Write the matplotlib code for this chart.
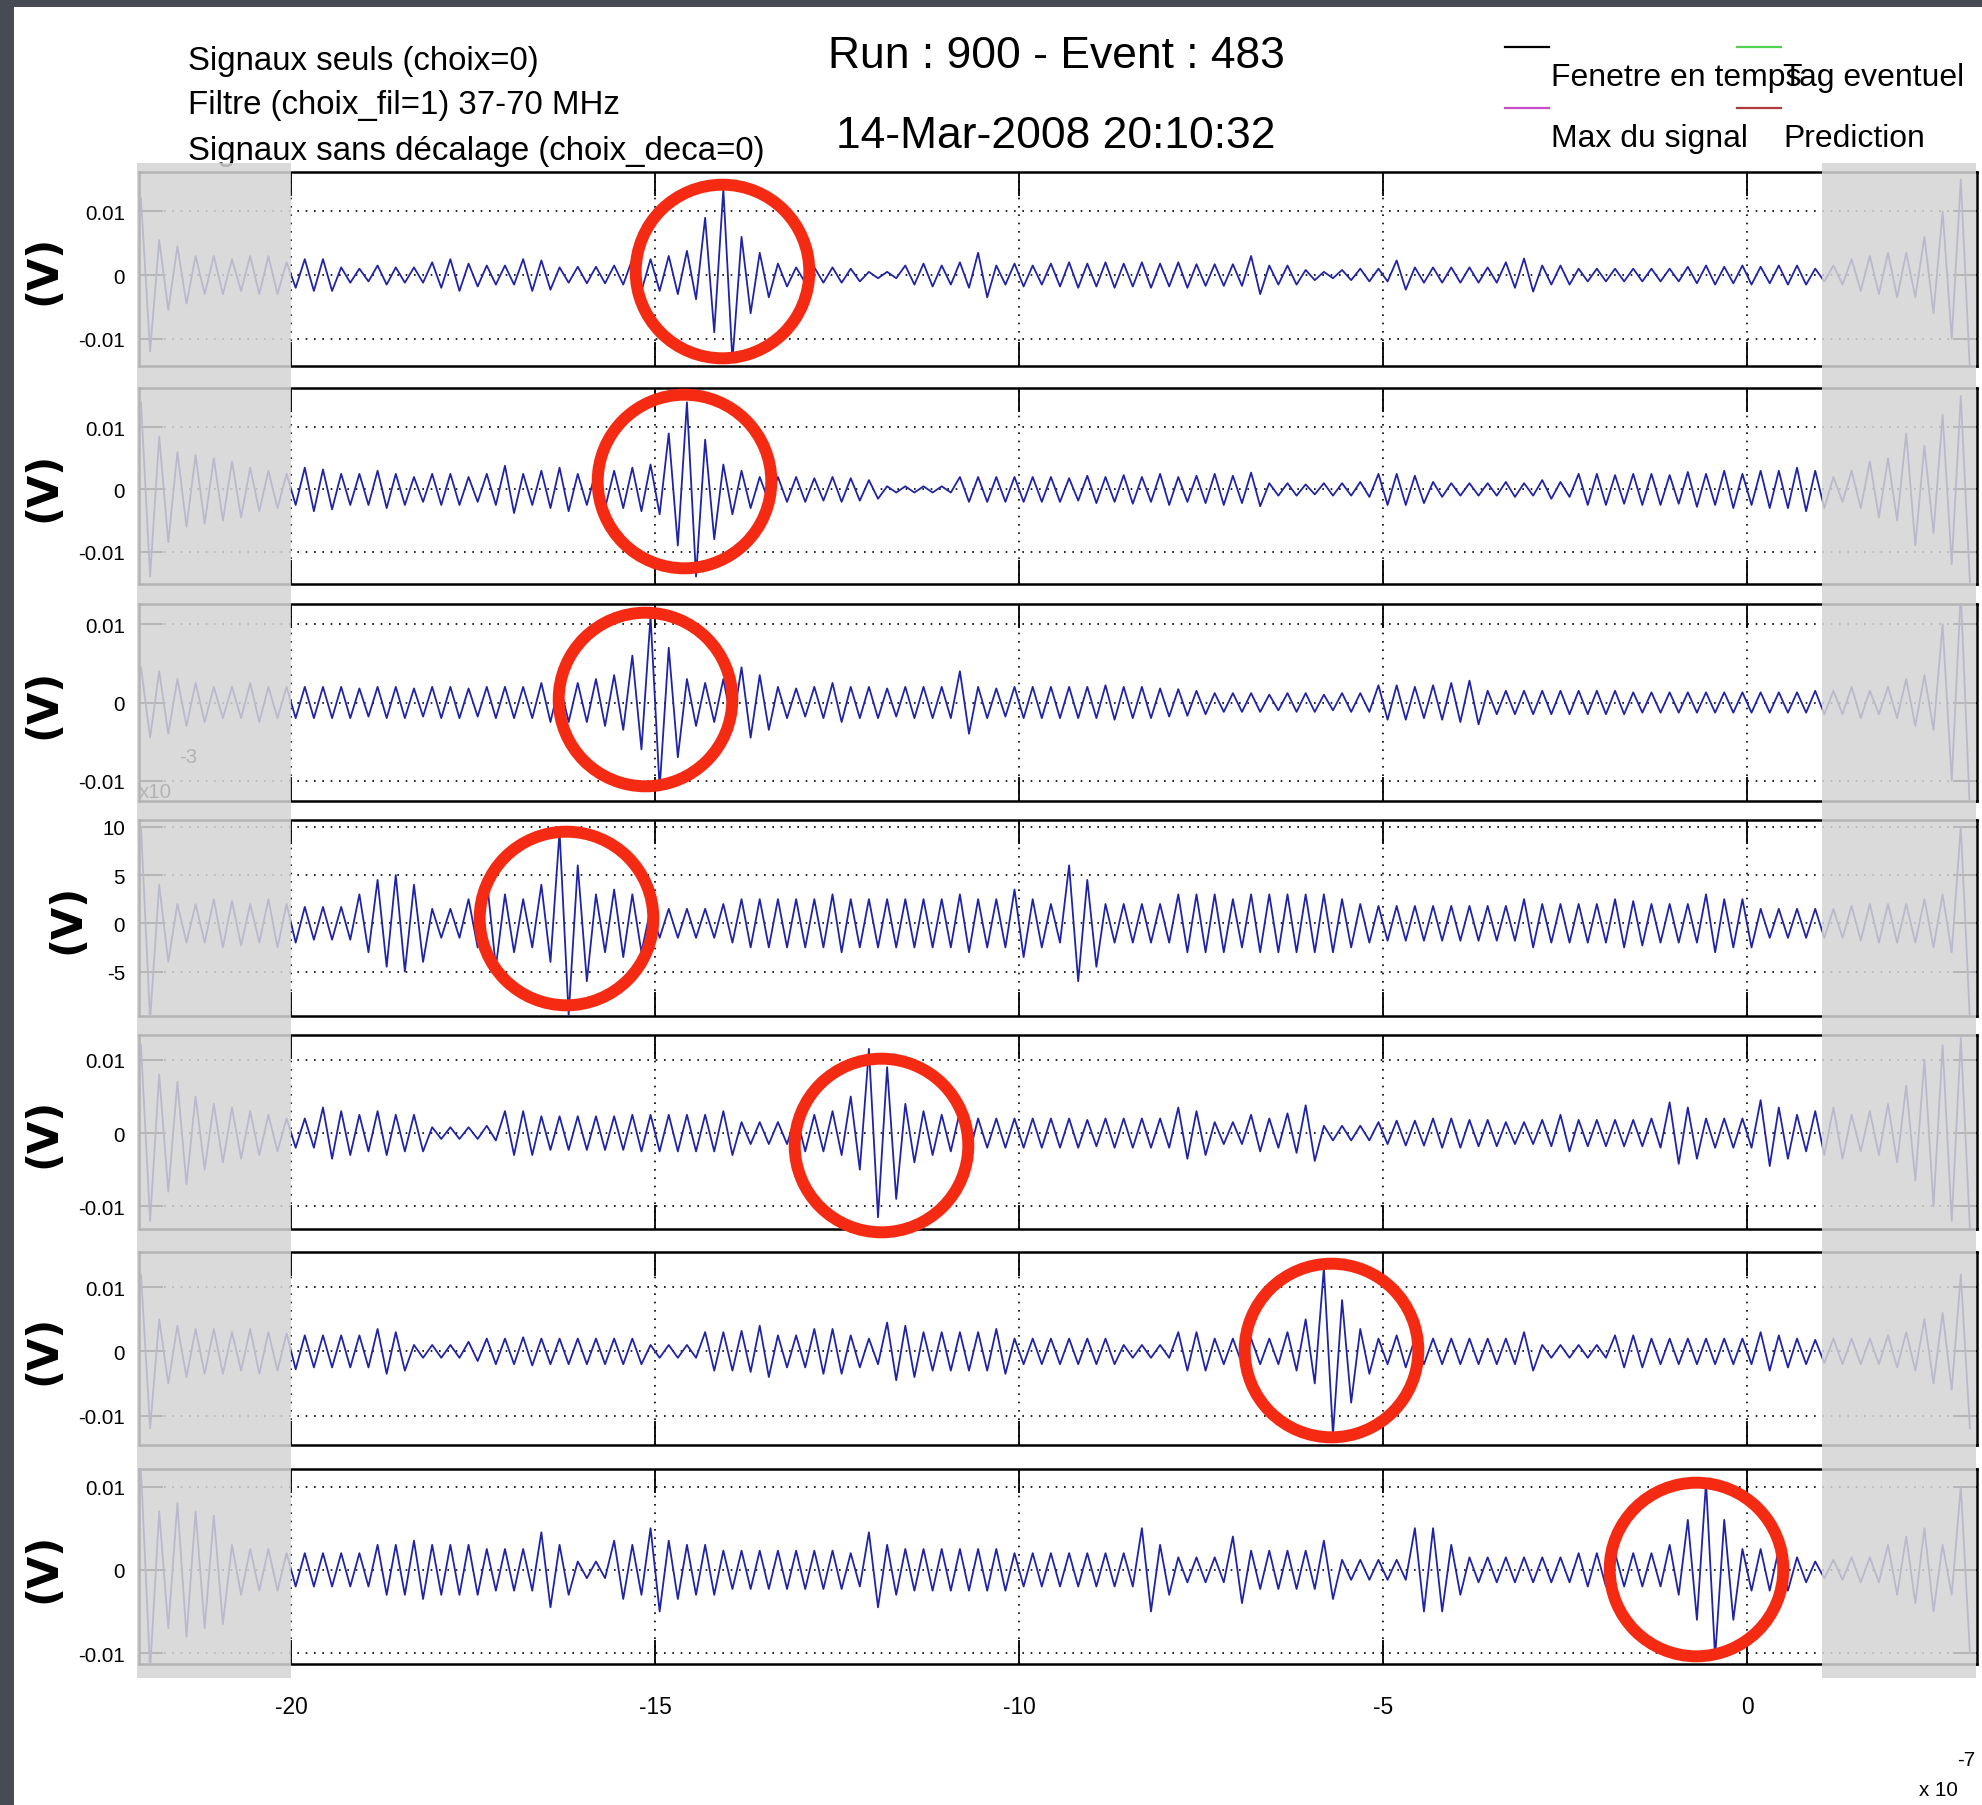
import matplotlib
matplotlib.use("Agg")

import matplotlib.pyplot as plt
import numpy as np
from matplotlib import font_manager
from matplotlib.lines import Line2D
from matplotlib.patches import Rectangle
from matplotlib.transforms import blended_transform_factory

# time is in units of 1e-7 s, one oscillation cycle every 0.25 (40 MHz)
CYCLE_START = -22.0
CYCLE_STEP = 0.25

# peak amplitude (mV) of every cycle, one list per antenna
amp_ch1 = [
    12, 5.5, 4.5, 3, 3, 2.5, 3, 3, 2, 2.5,
    2.5, 1.2, 1, 1.5, 1.2, 1.2, 2, 2.5, 1.8, 1.5,
    1.5, 2.5, 2.3, 1.2, 1.3, 1.3, 1.5, 2.5, 2.5, 3,
    3.8, 9, 13.5, 6, 3.5, 1.8, 1.2, 1.2, 1.2, 1,
    0.5, 0.5, 1.5, 1.8, 1.5, 2, 3.5, 1.5, 1.8, 1.5,
    1.8, 2, 1.8, 2, 1.8, 2, 1.8, 2, 1.7, 1.7,
    1.7, 3, 1.5, 1.5, 0.8, 0.5, 0.8, 1, 1, 2.3,
    1.2, 1.2, 1.2, 1.2, 1.2, 2, 2.6, 1.5, 1.5, 1,
    1, 1, 1, 1, 1, 1.3, 1.5, 1.3, 1.5, 1.3,
    1.5, 1.5, 1, 1.5, 2.5, 3, 3.5, 3.5, 6, 10,
    15,
]
amp_ch2 = [
    14, 8.5, 6, 5.5, 5, 4.5, 3.5, 3, 2.5, 3.5,
    3.2, 2.5, 2.5, 3, 2.5, 2, 2.5, 2.5, 2, 2.5,
    3.8, 2.5, 3, 3.5, 2.5, 3, 3, 3.5, 4, 9,
    14, 8, 4, 3, 2, 2, 2, 1.8, 2, 1.8,
    1.5, 0.5, 0.5, 0.5, 0.5, 2, 2, 2, 2, 2,
    2, 1.8, 2.2, 2, 2.3, 2, 2.5, 2, 2.2, 2.5,
    2.2, 2.7, 1, 1, 0.8, 1, 1, 1.2, 2.5, 2.5,
    2.2, 1.2, 1, 1, 1, 1.2, 1, 1.5, 1.2, 2.5,
    2.5, 2.3, 2.5, 2.5, 2.3, 2.8, 2.5, 3, 2.5, 3,
    3, 3.5, 3, 2, 3, 4.5, 5, 9, 7, 12,
    15,
]
amp_ch3 = [
    4.5, 4, 3, 2.5, 2, 2, 2.5, 2, 2, 2,
    2, 2, 1.8, 2, 2, 1.8, 2, 2, 1.8, 2,
    2, 2, 2.5, 2.5, 2.5, 3, 3.5, 6, 11, 7,
    3, 2.5, 3, 4.5, 3.5, 2, 1.8, 2, 2.5, 2,
    2, 1.8, 2, 2, 2, 4, 2, 1.8, 2, 2,
    2, 2, 2, 2.2, 2, 2, 1.8, 1.7, 1.5, 1.2,
    1.2, 1.2, 1, 1.2, 1.2, 1, 1.2, 1.2, 2.2, 2.2,
    2, 2.2, 2.5, 2.8, 1.5, 1.5, 1.5, 1.5, 1.5, 1.5,
    1.5, 1.5, 1.3, 1.3, 1.3, 1.3, 1.3, 1.3, 1.3, 1.3,
    1.3, 1.3, 1.5, 1.5, 2, 1.5, 2, 3, 3.5, 10,
    14,
]
amp_ch4 = [
    10, 4, 2, 2, 2.5, 2.3, 2, 2.5, 2, 1.7,
    1.7, 1.7, 3, 4.5, 5, 4, 1.5, 1.5, 2.5, 4.5,
    3, 2.5, 4, 9.5, 6, 3, 3.5, 3, 1.5, 1.5,
    1.5, 1.5, 2, 2.5, 2.5, 2.5, 2.5, 2.5, 3, 2.5,
    2.5, 2.5, 2.5, 2.5, 2.5, 3, 2.5, 2.5, 3.5, 2.5,
    2, 6, 4.5, 2, 2, 2, 2, 3, 3, 3,
    2.5, 3, 3, 3, 3, 3, 2.5, 2, 1.8, 1.8,
    1.8, 1.8, 1.8, 1.8, 1.8, 1.8, 2.5, 2, 2, 2,
    2, 2.5, 2.3, 2, 2, 2, 3, 2.5, 2.5, 1.5,
    1.5, 1.5, 1.5, 1.5, 1.8, 2, 2, 2, 2.5, 3,
    10,
]
amp_ch5 = [
    12, 8, 7, 5, 4, 3.5, 3, 2.5, 2, 2,
    3.5, 3, 2.5, 3, 2.5, 2.5, 0.8, 0.8, 0.8, 1,
    3, 3, 2.3, 2.3, 2.3, 2.3, 2.3, 2.5, 2.5, 2.5,
    2.5, 2.5, 3, 1.5, 1.5, 1.5, 2.5, 2.5, 3, 5,
    11.5, 9, 4, 3, 2.5, 3, 2, 2, 2, 2,
    2, 2, 1.8, 2, 2, 2, 2, 3.5, 3, 1.5,
    1.5, 2.5, 2, 2.7, 3.8, 1, 1, 1, 1.5, 1.7,
    1.7, 2, 2, 1.8, 1.8, 1.5, 1.5, 1.8, 2.5, 1.8,
    1.8, 1.8, 1.8, 2, 4.2, 3.5, 2, 2, 2, 4.5,
    3.5, 2.5, 3, 3.5, 2.5, 3, 4, 6.5, 10, 12,
    13,
]
amp_ch6 = [
    12, 5, 4, 3.5, 3.5, 3, 3.5, 3, 2.8, 2.5,
    2.5, 2.5, 2.5, 3.5, 3, 1, 1, 1, 1.5, 2,
    2, 2.2, 2, 2, 2, 2, 2, 2, 1, 1,
    1, 3, 3, 3.2, 4, 2.5, 2.5, 3.5, 3.5, 2.5,
    2, 4.5, 4, 3, 3, 3, 3, 3.5, 2, 2,
    2, 2, 2, 2, 1, 1, 1, 3, 3, 2,
    2, 2, 2, 3, 5, 13, 8, 3.5, 2, 2.5,
    2, 2, 2, 2, 2, 2, 3, 1, 1, 1,
    1, 2.5, 2.5, 2, 2, 2, 2, 2, 2, 3,
    2.5, 2, 1.8, 2, 2, 2, 2.5, 3, 5, 6,
    12,
]
amp_ch7 = [
    12, 7, 8, 7, 6.5, 3, 2.5, 2.5, 2, 2,
    2, 2, 2, 3, 3, 3.5, 3, 3, 3, 2.5,
    2.5, 2.5, 4.5, 3, 1, 1, 3.5, 3, 5, 3.5,
    3, 3, 2.3, 2.3, 2.3, 2.3, 2.3, 2.3, 2.3, 2,
    4.5, 3, 2.5, 2.5, 2.5, 2.5, 2.5, 2.5, 2, 2,
    2, 2, 2, 2, 2, 5, 3, 1.5, 1.5, 1.5,
    4, 2.3, 2.3, 2.3, 2.3, 3.5, 1.2, 1.2, 1.2, 1.2,
    5, 5, 3, 1.5, 1.5, 1.5, 1.5, 1.5, 1.5, 2,
    2, 2, 2, 2, 3, 6, 10.5, 6, 2.5, 2.5,
    2.5, 1.5, 1, 1.2, 1.5, 1.5, 3, 4, 5, 3,
    10,
]

# detected pulse per antenna (red circles): time (1e-7 s) and level (mV)
circle_t = [-14.08, -14.60, -15.14, -16.23, -11.90, -5.72, -0.70]
circle_mv = [0.6, 1.3, 0.4, 0.6, -1.6, 0.25, 0.15]

# y range (mV) of each panel
ylim_low = [-14.3, -15.2, -12.6, -9.6, -13.1, -14.6, -11.3]
ylim_high = [16.2, 16.3, 12.6, 10.7, 13.4, 15.5, 12.1]

volt_ticks = [-0.01, 0, 0.01]
volt_labels = ["-0.01", "0", "0.01"]
mv_ticks = [-5, 0, 5, 10]
mv_labels = ["-5", "0", "5", "10"]
time_ticks = [-20, -15, -10, -5, 0]
time_labels = ["-20", "-15", "-10", "-5", "0"]
time_window = (-20.0, 1.03)

title_lines = ["Run : 900 - Event : 483", "14-Mar-2008 20:10:32"]
note_lines = [
    "Signaux seuls (choix=0)",
    "Filtre (choix_fil=1) 37-70 MHz",
    "Signaux sans décalage (choix_deca=0)",
]
legend_names = ["Fenetre en temps", "Tag eventuel", "Max du signal", "Prediction"]
legend_colors = ["black", "#4fd24f", "#c84fc8", "#b03a3a"]

# layout, in pixels of the 1983x1806 screenshot
W, H = 1983, 1806
AX_LEFT, AX_RIGHT = 139, 1977
PANEL_PX = [(173, 367), (389, 585), (605, 802), (821, 1017),
            (1036, 1230), (1253, 1446), (1470, 1665)]
BLUE = "#1f24a5"
RED = "#f52a12"


def px_box(left, top, right, bottom):
    return [left / W, 1 - bottom / H, (right - left) / W, (bottom - top) / H]


def zigzag(amps):
    """One peak and one trough per cycle, joined by straight segments."""
    amps = np.asarray(amps, dtype=float)
    centres = CYCLE_START + CYCLE_STEP * np.arange(len(amps))
    t = np.column_stack([centres - CYCLE_STEP / 4, centres + CYCLE_STEP / 4]).ravel()
    v = np.column_stack([amps, -amps]).ravel()
    return t, v


def pick_font():
    names = {f.name for f in font_manager.fontManager.ttflist}
    if "Liberation Sans Narrow" in names:
        return "Liberation Sans Narrow", 1.0
    return "Liberation Sans", 0.82


def main():
    face, k = pick_font()
    plt.rcParams["font.family"] = [face, "DejaVu Sans"]

    fig = plt.figure(figsize=(W / 100, H / 100), dpi=100)
    fig.patch.set_facecolor("#474b53")
    fig.add_artist(Rectangle((14 / W, 0), 1 - 14 / W, 1 - 8 / H,
                             transform=fig.transFigure, facecolor="white",
                             edgecolor="none", zorder=-10))

    amplitudes = [amp_ch1, amp_ch2, amp_ch3, amp_ch4, amp_ch5, amp_ch6, amp_ch7]
    axes = []
    for i, amps in enumerate(amplitudes):
        top, bottom = PANEL_PX[i]
        ax = fig.add_axes(px_box(AX_LEFT, top, AX_RIGHT, bottom))
        scale = 1.0 if i == 3 else 1e-3

        t, v = zigzag(amps)
        ax.plot(t, v * scale, color=BLUE, lw=1.3, zorder=3)
        ax.plot([circle_t[i]], [circle_mv[i] * scale], "o", ms=125,
                mfc="none", mec=RED, mew=8.6, clip_on=False, zorder=10)

        ax.set_xlim(-22.09, 3.16)
        ax.set_ylim(ylim_low[i] * scale, ylim_high[i] * scale)
        ax.set_xticks(time_ticks, time_labels)
        if i == 3:
            ax.set_yticks(mv_ticks, mv_labels)
        else:
            ax.set_yticks(volt_ticks, volt_labels)

        ax.grid(True, color="black", linestyle=(0, (1, 4)), linewidth=1.2)
        ax.set_axisbelow(True)
        for spine in ax.spines.values():
            spine.set_linewidth(1.8)
        ax.tick_params(axis="both", direction="in", top=True, right=True,
                       length=17, width=1.3)
        ax.tick_params(axis="y", pad=10, labelsize=18 * k)
        ax.tick_params(axis="x", pad=22, labelsize=20 * k,
                       labelbottom=(i == len(amplitudes) - 1))
        ax.set_ylabel("(V)", fontsize=30, fontweight="bold",
                      family="DejaVu Sans", labelpad=10)
        axes.append(ax)

    # offset labels for the mV panel and for the time axis
    axes[3].annotate("x10", xy=(0, 1), xycoords="axes fraction",
                     xytext=(0, 14), textcoords="offset points",
                     ha="left", va="bottom", fontsize=18 * k)
    axes[3].annotate("-3", xy=(0, 1), xycoords="axes fraction",
                     xytext=(29, 39), textcoords="offset points",
                     ha="left", va="bottom", fontsize=18 * k)
    axes[-1].annotate("-7", xy=(1, 0), xycoords="axes fraction",
                      xytext=(-1, -62), textcoords="offset points",
                      ha="right", va="top", fontsize=18 * k)
    axes[-1].annotate("x 10", xy=(1, 0), xycoords="axes fraction",
                      xytext=(-14, -97), textcoords="offset points",
                      ha="right", va="bottom", fontsize=18 * k)

    # grey shading outside the time window, drawn over every panel
    blend = blended_transform_factory(axes[-1].transData, fig.transFigure)
    for x0, x1 in [(-22.12, time_window[0]), (time_window[1], 3.14)]:
        fig.add_artist(Rectangle((x0, 1 - 1679 / H), x1 - x0, (1679 - 164) / H,
                                 transform=blend, facecolor=(0.83, 0.83, 0.83),
                                 alpha=0.85, edgecolor="none", zorder=5))

    # header
    for text, base in zip(title_lines, [68, 148]):
        fig.text(1056 / W, 1 - base / H, text, ha="center", va="baseline",
                 fontsize=39 * k)
    for text, base in zip(note_lines, [70, 114, 160]):
        fig.text(188 / W, 1 - base / H, text, ha="left", va="baseline",
                 fontsize=29 * k)

    legend_slots = [(1505, 48, 86), (1737, 48, 86), (1505, 109, 147), (1737, 109, 147)]
    for name, color, (x, y_line, base) in zip(legend_names, legend_colors, legend_slots):
        fig.add_artist(Line2D([x / W, (x + 44) / W], [1 - y_line / H] * 2,
                              transform=fig.transFigure, color=color, lw=1.6))
        fig.text((x + 46) / W, 1 - base / H, name, ha="left", va="baseline",
                 fontsize=28 * k)

    fig.savefig("out.png", dpi=100, facecolor=fig.get_facecolor())
    plt.close(fig)


if __name__ == "__main__":
    main()
